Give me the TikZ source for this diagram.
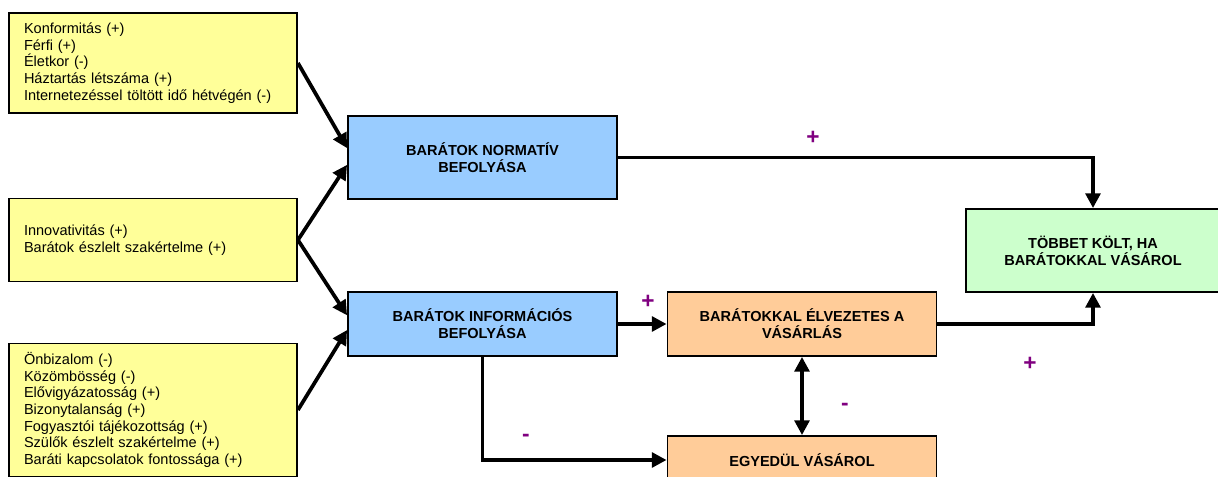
\documentclass[tikz,border=0pt]{standalone}
\usepackage{fontspec}
\setmainfont{Liberation Sans}
\usetikzlibrary{arrows.meta,positioning}

\definecolor{factoryellow}{RGB}{255,255,153}
\definecolor{influenceblue}{RGB}{153,204,255}
\definecolor{shoporange}{RGB}{255,204,153}
\definecolor{resultgreen}{RGB}{204,255,204}
\definecolor{signpurple}{RGB}{128,0,128}

\begin{document}
\begin{tikzpicture}[x=0.75pt,y=-0.75pt]

    % Styles
    \tikzstyle{factor} = [rectangle, draw=black, line width=1.4pt, fill=factoryellow, text width=193.5pt, inner xsep=11.25pt, align=left, minimum width=216pt, font=\fontsize{10.9}{12.5}\selectfont]
    \tikzstyle{influence} = [rectangle, draw=black, line width=1.4pt, fill=influenceblue, minimum width=201.75pt, align=center, font=\fontsize{10.9}{12.75}\selectfont\bfseries]
    \tikzstyle{shop} = [influence, fill=shoporange]
    \tikzstyle{result} = [influence, fill=resultgreen, minimum width=191pt, minimum height=62.25pt]
    \tikzstyle{sign} = [text=signpurple, font=\fontsize{17}{17}\selectfont\bfseries, inner sep=0pt]
    \tikzstyle{arrow} = [line width=2.8pt, -{Triangle[length=11pt,width=11pt]}]
    \tikzstyle{line} = [line width=2.8pt]

    \useasboundingbox (0,0) rectangle (1218,477);
    \clip (0,0) rectangle (1218,477);

    % Nodes
    \node (conform) [factor, minimum height=75pt] at (153,63) {Konformitás (+)\\Férfi (+)\\Életkor (-)\\Háztartás létszáma (+)\\Internetezéssel töltött idő hétvégén (-)};
    \node (innov) [factor, minimum height=62.25pt] at (153,240) {Innovativitás (+)\\Barátok észlelt szakértelme (+)};
    \node (onbiz) [factor, minimum height=99.75pt] at (153,410) {Önbizalom (-)\\Közömbösség (-)\\Elővigyázatosság (+)\\Bizonytalanság (+)\\Fogyasztói tájékozottság (+)\\Szülők észlelt szakértelme (+)\\Baráti kapcsolatok fontossága (+)};

    \node (normativ) [influence, minimum height=62.25pt] at (482.5,157.5) {BARÁTOK NORMATÍV\\BEFOLYÁSA};
    \node (inform) [influence, minimum height=48pt] at (482.5,324) {BARÁTOK INFORMÁCIÓS\\BEFOLYÁSA};

    \node (elvezet) [shop, minimum height=48pt] at (802,324) {BARÁTOKKAL ÉLVEZETES A\\VÁSÁRLÁS};
    \node (egyedul) [shop, minimum height=36pt] at (802,460) {EGYEDÜL VÁSÁROL};

    \node (tobbet) [result] at (1093,250.5) {TÖBBET KÖLT, HA\\BARÁTOKKAL VÁSÁROL};

    % Signs
    \node (s-norm) [sign] at (813,138) {+};
    \node (s-inform) [sign] at (648,302) {+};
    \node (s-elvezet) [sign] at (1030,364) {+};
    \node (s-egyedul) [sign] at (845,407) {-};
    \node (s-alone) [sign] at (526,438) {-};

    % Arrows
    \draw [arrow] (conform.east) -- ([yshift=7pt]normativ.west);
    \draw [arrow] (innov.east) -- ([yshift=-5.5pt]normativ.west);
    \draw [arrow] (innov.east) -- ([yshift=6.5pt]inform.west);
    \draw [arrow] (onbiz.east) -- ([yshift=-4.5pt]inform.west);
    \draw [arrow] (normativ.east) -| (tobbet.north);
    \draw [arrow] (inform.east) -- (elvezet.west);
    \draw [arrow] (elvezet.east) -| (tobbet.south);
    \draw [arrow] (inform.south) |- (egyedul.west);
    \draw [line, {Triangle[length=11pt,width=11pt]}-{Triangle[length=11pt,width=11pt]}] (elvezet.south) -- (egyedul.north);

\end{tikzpicture}
\end{document}
